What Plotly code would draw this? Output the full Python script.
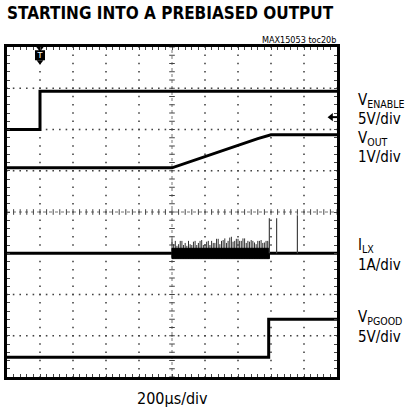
import numpy as np
import plotly.graph_objects as go

# ---------------- data (grid divisions: x 0..10, y 0..8) ----------------
venable_x = [0.0, 1.0, 1.0, 10.0]
venable_y = [6.0, 6.0, 6.93, 6.93]

vout_x = [0.0, 5.0, 7.6, 8.0, 10.0]
vout_y = [5.07, 5.07, 5.78, 5.87, 5.87]

ilx_x = [0.0, 10.0]
ilx_y = [3.0, 3.0]

ilx_band_x = [5.0, 5.05, 5.1, 5.15, 5.2, 5.25, 5.3, 5.35, 5.4, 5.45, 5.5, 5.55, 5.6,
              5.65, 5.7, 5.75, 5.8, 5.85, 5.9, 5.95, 6.0, 6.05, 6.1, 6.15, 6.2, 6.25,
              6.3, 6.35, 6.4, 6.45, 6.5, 6.55, 6.6, 6.65, 6.7, 6.75, 6.8, 6.85, 6.9,
              6.95, 7.0, 7.05, 7.1, 7.15, 7.2, 7.25, 7.3, 7.35, 7.4, 7.45, 7.5, 7.55,
              7.6, 7.65, 7.7, 7.75, 7.8, 7.85, 7.9, 7.95]
ilx_band_top = [3.35, 3.22, 3.3, 3.18, 3.22, 3.3, 3.3, 3.2, 3.25, 3.18, 3.3, 3.22, 3.2,
                3.28, 3.3, 3.2, 3.25, 3.3, 3.32, 3.2, 3.22, 3.28, 3.3, 3.2, 3.3, 3.25,
                3.25, 3.35, 3.35, 3.22, 3.3, 3.32, 3.36, 3.25, 3.3, 3.38, 3.4, 3.28, 3.3,
                3.35, 3.35, 3.3, 3.3, 3.36, 3.36, 3.25, 3.3, 3.28, 3.32, 3.3, 3.26, 3.22,
                3.3, 3.3, 3.32, 3.25, 3.26, 3.3, 3.3, 3.28]
ilx_band_low = 2.87
ilx_band_high = 3.12

ilx_spike_x = [7.95, 8.17, 8.8]
ilx_spike_top = [3.85, 3.85, 3.92]

vpgood_x = [0.0, 7.93, 7.93, 10.0]
vpgood_y = [0.48, 0.48, 1.4, 1.4]

trigger_x = 1.0
marker_level = 6.3

labels = [("V<sub>ENABLE</sub>", 0.839), ("5V/div", 0.782),
          ("V<sub>OUT</sub>", 0.724), ("1V/div", 0.667),
          ("I<sub>LX</sub>", 0.400), ("1A/div", 0.339),
          ("V<sub>PGOOD</sub>", 0.179), ("5V/div", 0.121)]

title_text = "STARTING INTO A PREBIASED OUTPUT"
ref_text = "MAX15053 toc20b"
xlabel_text = "200µs/div"

FONT = "DejaVu Sans Condensed, Liberation Sans Narrow, Arial Narrow, Liberation Sans, sans-serif"

fig = go.Figure()

# ---------------- graticule ----------------
dots_x, dots_y = [], []
fine_x = np.round(np.arange(0, 10.001, 0.2), 3)
fine_y = np.round(np.arange(0, 8.001, 0.2), 3)
for gx in [1, 2, 3, 4, 6, 7, 8, 9]:
    dots_x += [gx] * len(fine_y)
    dots_y += list(fine_y)
for gy in [1, 2, 3, 5, 6, 7]:
    dots_x += list(fine_x)
    dots_y += [gy] * len(fine_x)
fig.add_trace(go.Scatter(x=dots_x, y=dots_y, mode="markers",
                         marker=dict(symbol="square", size=1.6, color="#444444", line_width=0),
                         hoverinfo="skip", showlegend=False))
# center cross with tick marks
fig.add_trace(go.Scatter(x=[0, 10], y=[4, 4], mode="lines",
                         line=dict(color="#777777", width=1, dash="dot"),
                         hoverinfo="skip", showlegend=False))
fig.add_trace(go.Scatter(x=[5, 5], y=[0, 8], mode="lines",
                         line=dict(color="#777777", width=1, dash="dot"),
                         hoverinfo="skip", showlegend=False))
fig.add_trace(go.Scatter(x=list(fine_x), y=[4] * len(fine_x), mode="markers",
                         marker=dict(symbol="line-ns", size=4, line=dict(width=1, color="#444444")),
                         hoverinfo="skip", showlegend=False))
fig.add_trace(go.Scatter(x=[5] * len(fine_y), y=list(fine_y), mode="markers",
                         marker=dict(symbol="line-ew", size=4, line=dict(width=1, color="#444444")),
                         hoverinfo="skip", showlegend=False))

# ---------------- waveforms ----------------
wave = dict(color="black", width=3)
fig.add_trace(go.Scatter(x=venable_x, y=venable_y, mode="lines", line=wave,
                         hoverinfo="skip", showlegend=False))
fig.add_trace(go.Scatter(x=vout_x, y=vout_y, mode="lines", line=wave,
                         hoverinfo="skip", showlegend=False))
fig.add_trace(go.Scatter(x=ilx_x, y=ilx_y, mode="lines", line=wave,
                         hoverinfo="skip", showlegend=False))
# switching band: spikes + dense core
bx, by = [], []
for x, t in zip(ilx_band_x, ilx_band_top):
    bx += [x, x, None]
    by += [ilx_band_low, t, None]
fig.add_trace(go.Scatter(x=bx, y=by, mode="lines", line=dict(color="#333333", width=1),
                         hoverinfo="skip", showlegend=False))
core_x = [ilx_band_x[0], ilx_band_x[-1], ilx_band_x[-1], ilx_band_x[0], ilx_band_x[0]]
core_y = [ilx_band_low, ilx_band_low, ilx_band_high, ilx_band_high, ilx_band_low]
fig.add_trace(go.Scatter(x=core_x, y=core_y, mode="lines", fill="toself",
                         fillcolor="black", line=dict(color="black", width=1),
                         hoverinfo="skip", showlegend=False))
sx, sy = [], []
for x, t in zip(ilx_spike_x, ilx_spike_top):
    sx += [x, x, None]
    sy += [3.0, t, None]
fig.add_trace(go.Scatter(x=sx, y=sy, mode="lines", line=dict(color="#444444", width=1.2),
                         hoverinfo="skip", showlegend=False))
fig.add_trace(go.Scatter(x=vpgood_x, y=vpgood_y, mode="lines", line=wave,
                         hoverinfo="skip", showlegend=False))

# trigger marker at top
fig.add_trace(go.Scatter(x=[trigger_x], y=[7.8], mode="markers+text",
                         marker=dict(symbol="square", size=10, color="black"),
                         text=["T"], textposition="middle center",
                         textfont=dict(color="white", size=9, family="Liberation Sans"),
                         hoverinfo="skip", showlegend=False, cliponaxis=False))
fig.add_trace(go.Scatter(x=[trigger_x], y=[7.97], mode="markers",
                         marker=dict(symbol="triangle-down", size=7, color="black"),
                         hoverinfo="skip", showlegend=False, cliponaxis=False))
fig.add_trace(go.Scatter(x=[trigger_x], y=[7.64], mode="markers",
                         marker=dict(symbol="triangle-down", size=6, color="black"),
                         hoverinfo="skip", showlegend=False, cliponaxis=False))
# reference level arrow at right
fig.add_trace(go.Scatter(x=[9.83, 10], y=[marker_level, marker_level], mode="lines",
                         line=dict(color="black", width=2),
                         hoverinfo="skip", showlegend=False))
fig.add_trace(go.Scatter(x=[9.82], y=[marker_level], mode="markers",
                         marker=dict(symbol="triangle-left", size=7, color="black"),
                         hoverinfo="skip", showlegend=False))

# ---------------- layout ----------------
axis_common = dict(showgrid=False, zeroline=False, showticklabels=False,
                   showline=True, linecolor="black", linewidth=3, mirror="allticks",
                   ticks="inside", ticklen=3, tickcolor="#444444", tickwidth=1)
fig.update_layout(
    width=410, height=410,
    margin=dict(l=7, r=73, t=47, b=33),
    paper_bgcolor="white", plot_bgcolor="white",
    xaxis=dict(range=[0, 10], tick0=0, dtick=0.2, **axis_common),
    yaxis=dict(range=[0, 8], tick0=0, dtick=0.2, **axis_common),
    showlegend=False,
)

ann = []
ann.append(dict(text="<b>" + title_text + "</b>", xref="paper", yref="paper",
                x=-0.006, y=1.103, xanchor="left", yanchor="middle", showarrow=False,
                font=dict(family=FONT, size=17, color="black")))
ann.append(dict(text=ref_text, xref="paper", yref="paper",
                x=1.003, y=1.021, xanchor="right", yanchor="middle", showarrow=False,
                font=dict(family=FONT, size=9, color="black")))
for txt, yy in labels:
    ann.append(dict(text=txt, xref="paper", yref="paper", x=1.058, y=yy,
                    xanchor="left", yanchor="middle", showarrow=False,
                    font=dict(family=FONT, size=15, color="black")))
ann.append(dict(text=xlabel_text, xref="paper", yref="paper", x=0.5, y=-0.064,
                xanchor="center", yanchor="middle", showarrow=False,
                font=dict(family=FONT, size=16, color="black")))
fig.update_layout(annotations=ann)

fig.write_html("out.html")
